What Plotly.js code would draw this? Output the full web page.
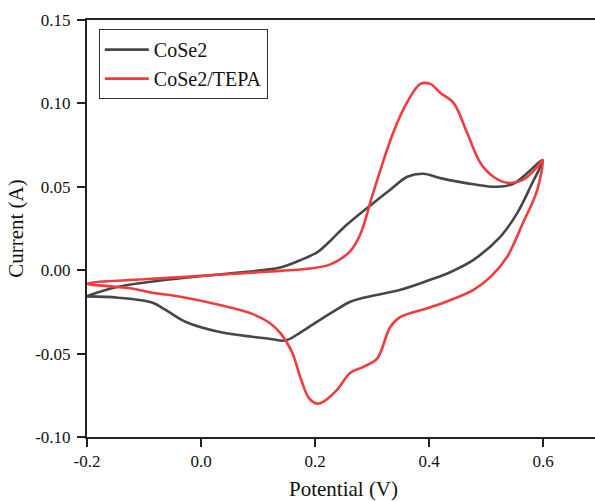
<!DOCTYPE html>
<html>
<head>
<meta charset="utf-8">
<script src="https://cdn.plot.ly/plotly-3.0.1.min.js"></script>
<style>html,body{margin:0;padding:0;background:#fff;overflow:hidden;}</style>
</head>
<body>
<div id="chart"></div>
<script>
// CoSe2 CV loop (potential V, current A)
const cose2V = [-0.2, -0.145, -0.0275, 0.081, 0.113, 0.139, 0.174, 0.205, 0.228, 0.250, 0.303, 0.332, 0.362, 0.390, 0.420, 0.478, 0.520, 0.548, 0.573, 0.599,
  0.578, 0.555, 0.525, 0.478, 0.437, 0.400, 0.350, 0.285, 0.262, 0.232, 0.204, 0.174, 0.157, 0.145, 0.122, 0.090, 0.031, -0.0275, -0.0626, -0.085, -0.145, -0.2];
const cose2I = [-0.0155, -0.0099, -0.0045, -0.0010, 0.0002, 0.0016, 0.0060, 0.0110, 0.0180, 0.0255, 0.0404, 0.0482, 0.0560, 0.0578, 0.0552, 0.0515, 0.0500, 0.0518, 0.0584, 0.0661,
  0.0500, 0.0344, 0.0200, 0.0062, -0.0012, -0.0060, -0.0117, -0.0165, -0.0189, -0.0249, -0.0308, -0.0374, -0.0410, -0.0423, -0.0412, -0.0399, -0.0369, -0.0309, -0.0237, -0.0195, -0.0165, -0.0157];

// CoSe2/TEPA CV loop
const tepaV = [-0.2, -0.0275, 0.139, 0.183, 0.227, 0.262, 0.280, 0.302, 0.337, 0.362, 0.385, 0.402, 0.420, 0.443, 0.467, 0.490, 0.513, 0.537, 0.565, 0.590, 0.599,
  0.590, 0.565, 0.537, 0.508, 0.478, 0.437, 0.400, 0.350, 0.332, 0.309, 0.285, 0.262, 0.239, 0.215, 0.204, 0.190, 0.176, 0.160, 0.140, 0.120, 0.090, 0.031, -0.036, -0.085, -0.124, -0.2];
const tepaI = [-0.0081, -0.0040, -0.0004, 0.0007, 0.0035, 0.0115, 0.0220, 0.0464, 0.0823, 0.1009, 0.1117, 0.1117, 0.1063, 0.1003, 0.0823, 0.0644, 0.0560, 0.0524, 0.0542, 0.0620, 0.0661,
  0.0482, 0.0284, 0.0080, -0.0040, -0.0118, -0.0180, -0.0225, -0.0280, -0.0340, -0.0530, -0.0579, -0.0615, -0.0716, -0.0788, -0.0800, -0.0770, -0.0660, -0.0494, -0.0380, -0.0315, -0.0262, -0.0207, -0.0159, -0.0135, -0.0108, -0.0081];

const xTickVals = [-0.2, 0.0, 0.2, 0.4, 0.6];
const xTickText = ["-0.2", "0.0", "0.2", "0.4", "0.6"];
const yTickVals = [-0.10, -0.05, 0.00, 0.05, 0.10, 0.15];
const yTickText = ["-0.10", "-0.05", "0.00", "0.05", "0.10", "0.15"];

const serif = "Liberation Serif";

const traces = [
  {x: cose2V, y: cose2I, name: "CoSe2", mode: "lines", type: "scatter",
   line: {color: "#474747", width: 2.6, shape: "spline", smoothing: 1}},
  {x: tepaV, y: tepaI, name: "CoSe2/TEPA", mode: "lines", type: "scatter",
   line: {color: "#f03c3c", width: 2.6, shape: "spline", smoothing: 1}}
];

const layout = {
  width: 600, height: 501,
  margin: {l: 87, r: 0, t: 20, b: 64},
  paper_bgcolor: "#fff", plot_bgcolor: "#fff",
  font: {family: serif, color: "#111", size: 17},
  showlegend: true,
  legend: {x: 0.023, y: 0.978, xanchor: "left", yanchor: "top",
    bgcolor: "#fff", bordercolor: "#333", borderwidth: 1, itemwidth: 44,
    font: {family: serif, size: 20, color: "#111"}, tracegroupgap: 0},
  xaxis: {range: [-0.2, 0.7], tickvals: xTickVals, ticktext: xTickText,
    ticks: "outside", ticklen: 8, tickwidth: 2, tickcolor: "#222",
    showline: true, linecolor: "#222", linewidth: 2, mirror: true,
    showgrid: false, zeroline: false,
    tickfont: {family: serif, size: 17, color: "#111"},
    title: {text: "Potential (V)", font: {family: serif, size: 21, color: "#111"}, standoff: 12}},
  yaxis: {range: [-0.10, 0.15], tickvals: yTickVals, ticktext: yTickText,
    ticks: "outside", ticklen: 8, tickwidth: 2, tickcolor: "#222",
    showline: true, linecolor: "#222", linewidth: 2, mirror: false,
    showgrid: false, zeroline: false, ticklabelstandoff: 3,
    tickfont: {family: serif, size: 17, color: "#111"},
    title: {text: "Current (A)", font: {family: serif, size: 21, color: "#111"}, standoff: 6}}
};

Plotly.newPlot("chart", traces, layout, {displayModeBar: false, staticPlot: true});
</script>
</body>
</html>
